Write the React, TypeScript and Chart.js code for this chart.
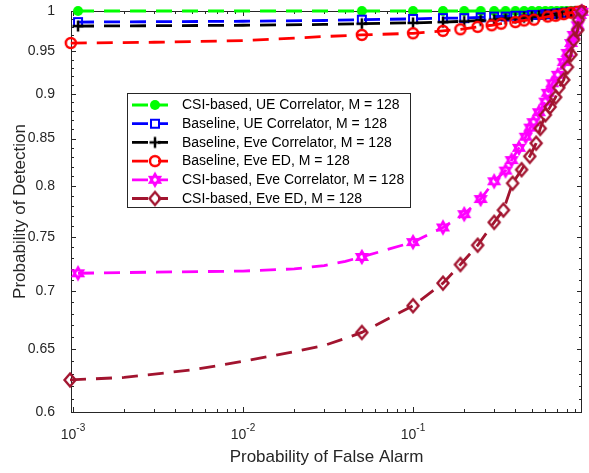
import React, { useEffect, useRef } from 'react';
import { Chart, registerables } from 'chart.js';

Chart.register(...registerables);

// ---------- data (marker points) ----------
const csiUeX = [0.00107, 0.05, 0.1, 0.15, 0.2, 0.25, 0.3, 0.35, 0.4, 0.45, 0.5, 0.55, 0.6, 0.65, 0.7, 0.75, 0.8, 0.85, 0.9, 0.95, 0.985];
const csiUeY = [1, 1, 1, 1, 1, 1, 1, 1, 1, 1, 1, 1, 1, 1, 1, 1, 1, 1, 1, 1, 1];

const baseUeX = [0.00107, 0.05, 0.1, 0.15, 0.2, 0.25, 0.3, 0.35, 0.4, 0.45, 0.5, 0.55, 0.6, 0.65, 0.7, 0.75, 0.8, 0.85, 0.9, 0.95, 0.985];
const baseUeY = [0.986, 0.989, 0.99, 0.991, 0.991, 0.992, 0.993, 0.993, 0.994, 0.994, 0.995, 0.995, 0.996, 0.996, 0.997, 0.997, 0.998, 0.998, 0.999, 0.999, 1.0];

const baseEveCorrX = [0.00107, 0.05, 0.1, 0.15, 0.2, 0.25, 0.3, 0.35, 0.4, 0.45, 0.5, 0.55, 0.6, 0.65, 0.7, 0.75, 0.8, 0.85, 0.9, 0.95, 0.985];
const baseEveCorrY = [0.981, 0.984, 0.985, 0.986, 0.987, 0.988, 0.989, 0.99, 0.991, 0.992, 0.993, 0.994, 0.995, 0.995, 0.996, 0.997, 0.998, 0.998, 0.999, 0.999, 1.0];

const baseEveEdX = [0.00097, 0.05, 0.1, 0.15, 0.19, 0.24, 0.29, 0.33, 0.4, 0.45, 0.515, 0.62, 0.69, 0.77, 0.85, 0.93, 0.985];
const baseEveEdY = [0.96, 0.97, 0.972, 0.975, 0.977, 0.98, 0.982, 0.984, 0.986, 0.988, 0.989, 0.993, 0.994, 0.996, 0.998, 0.999, 1.0];

const csiEveCorrX = [0.00107, 0.05, 0.1, 0.15, 0.2, 0.25, 0.3, 0.35, 0.38, 0.42, 0.46, 0.49, 0.51, 0.55, 0.6, 0.62, 0.66, 0.71, 0.77, 0.81, 0.85, 0.88, 0.93, 0.96, 0.985];
const csiEveCorrY = [0.716, 0.731, 0.745, 0.759, 0.772, 0.787, 0.805, 0.816, 0.827, 0.84, 0.852, 0.862, 0.868, 0.879, 0.891, 0.901, 0.912, 0.922, 0.937, 0.948, 0.96, 0.97, 0.982, 0.995, 0.999];

const csiEveEdX = [0.00096, 0.05, 0.1, 0.15, 0.19, 0.24, 0.3, 0.34, 0.385, 0.435, 0.486, 0.53, 0.56, 0.6, 0.64, 0.69, 0.72, 0.77, 0.81, 0.85, 0.88, 0.93, 0.94, 0.98];
const csiEveEdY = [0.625, 0.664, 0.687, 0.707, 0.724, 0.742, 0.764, 0.776, 0.803, 0.817, 0.831, 0.845, 0.861, 0.876, 0.885, 0.896, 0.907, 0.916, 0.931, 0.946, 0.964, 0.976, 0.989, 0.999];

// ---------- extra curve points read between markers (line only) ----------
const baseUeCurveX = [0.01, 0.03];
const baseUeCurveY = [0.987, 0.988];
const baseEveCorrCurveX = [0.01, 0.03];
const baseEveCorrCurveY = [0.982, 0.983];
const baseEveEdCurveX = [0.003, 0.01, 0.02, 0.03];
const baseEveEdCurveY = [0.961, 0.963, 0.966, 0.968];
const csiEveCorrCurveX = [0.003, 0.01, 0.02, 0.03, 0.04];
const csiEveCorrCurveY = [0.717, 0.718, 0.72, 0.723, 0.727];
const csiEveEdCurveX = [0.002, 0.005, 0.01, 0.02, 0.03, 0.04];
const csiEveEdCurveY = [0.627, 0.633, 0.64, 0.648, 0.653, 0.659];

const seriesLabels = [
  'CSI-based, UE Correlator, M = 128',
  'Baseline, UE Correlator, M = 128',
  'Baseline, Eve Correlator, M = 128',
  'Baseline, Eve ED, M = 128',
  'CSI-based, Eve Correlator, M = 128',
  'CSI-based, Eve ED, M = 128',
];

const xMajorTicks = [0.001, 0.01, 0.1];
const xMajorExp = ['-3', '-2', '-1'];
const yMajorTicks = [0.6, 0.65, 0.7, 0.75, 0.8, 0.85, 0.9, 0.95, 1];

const X_MIN = 0.000973;
const X_MAX = 0.986;
const Y_MIN = 0.6;
const Y_MAX = 1;

const FONT = '"Liberation Sans", Arial, Helvetica, sans-serif';
const AXIS_COLOR = '#262626';

// ---------- markers ----------
function makeMarker(kind: string, color: string): HTMLCanvasElement {
  const S = 20;
  const c = document.createElement('canvas');
  c.width = S;
  c.height = S;
  const g = c.getContext('2d')!;
  const m = S / 2;
  g.strokeStyle = color;
  g.fillStyle = color;
  g.lineJoin = 'miter';
  g.beginPath();
  if (kind === 'filledCircle') {
    g.arc(m, m, 5, 0, Math.PI * 2);
    g.fill();
  } else if (kind === 'square') {
    g.lineWidth = 2;
    g.strokeRect(m - 4, m - 4, 8, 8);
  } else if (kind === 'plus') {
    g.lineWidth = 2.5;
    g.moveTo(m - 5.5, m);
    g.lineTo(m + 5.5, m);
    g.moveTo(m, m - 5.5);
    g.lineTo(m, m + 5.5);
    g.stroke();
  } else if (kind === 'circle') {
    g.lineWidth = 2.5;
    g.arc(m, m, 5, 0, Math.PI * 2);
    g.stroke();
  } else if (kind === 'hexagram') {
    g.lineWidth = 2.4;
    const r = 5.8;
    for (let t = 0; t < 2; t++) {
      const off = t === 0 ? -Math.PI / 2 : Math.PI / 2;
      for (let k = 0; k < 3; k++) {
        const a = off + (k * 2 * Math.PI) / 3;
        const px = m + r * Math.cos(a);
        const py = m + r * Math.sin(a);
        if (k === 0) g.moveTo(px, py);
        else g.lineTo(px, py);
      }
      g.closePath();
    }
    g.stroke();
  } else if (kind === 'diamond') {
    g.lineWidth = 2.4;
    g.moveTo(m, m - 6.5);
    g.lineTo(m + 5.5, m);
    g.lineTo(m, m + 6.5);
    g.lineTo(m - 5.5, m);
    g.closePath();
    g.stroke();
  }
  return c;
}

function mergePoints(mx: number[], my: number[], cx: number[], cy: number[]) {
  const pts = mx.map((x, i) => ({ x, y: my[i] })).concat(cx.map((x, i) => ({ x, y: cy[i] })));
  pts.sort((a, b) => a.x - b.x);
  return pts;
}

export default function App() {
  const ref = useRef<HTMLCanvasElement | null>(null);

  useEffect(() => {
    const canvas = ref.current;
    if (!canvas) return;

    const specs = [
      { x: csiUeX, y: csiUeY, cx: [] as number[], cy: [] as number[], color: '#00FF00', marker: 'filledCircle' },
      { x: baseUeX, y: baseUeY, cx: baseUeCurveX, cy: baseUeCurveY, color: '#0000FF', marker: 'square' },
      { x: baseEveCorrX, y: baseEveCorrY, cx: baseEveCorrCurveX, cy: baseEveCorrCurveY, color: '#000000', marker: 'plus' },
      { x: baseEveEdX, y: baseEveEdY, cx: baseEveEdCurveX, cy: baseEveEdCurveY, color: '#FF0000', marker: 'circle' },
      { x: csiEveCorrX, y: csiEveCorrY, cx: csiEveCorrCurveX, cy: csiEveCorrCurveY, color: '#FF00FF', marker: 'hexagram' },
      { x: csiEveEdX, y: csiEveEdY, cx: csiEveEdCurveX, cy: csiEveEdCurveY, color: '#A2142F', marker: 'diamond' },
    ];
    const markers = specs.map((s) => makeMarker(s.marker, s.color));

    const DASH = [16, 10];
    const LW = 2.8;

    const datasets: any[] = [];
    specs.forEach((s, i) => {
      datasets.push({
        label: seriesLabels[i],
        data: mergePoints(s.x, s.y, s.cx, s.cy),
        showLine: true,
        borderColor: s.color,
        backgroundColor: s.color,
        borderWidth: LW,
        borderDash: DASH,
        pointRadius: 0,
        pointHoverRadius: 0,
        clip: false,
        tension: 0,
        order: 10 - i,
      });
      datasets.push({
        label: seriesLabels[i] + ' markers',
        data: s.x.map((xv, j) => ({ x: xv, y: s.y[j] })),
        showLine: false,
        borderColor: s.color,
        backgroundColor: s.color,
        pointStyle: markers[i],
        pointRadius: 6,
        pointHoverRadius: 6,
        clip: false,
        order: 10 - i,
      });
    });

    const yMinor: number[] = [];
    for (let k = 61; k < 100; k++) if (k % 5 !== 0) yMinor.push(k / 100);
    const xMinor: number[] = [];
    [0.001, 0.01, 0.1].forEach((d) => {
      for (let k = 2; k <= 9; k++) xMinor.push(k * d);
    });

    const axesPlugin = {
      id: 'matlabAxes',
      beforeDatasetsDraw(chart: any) {
        const { ctx, chartArea: a, scales } = chart;
        const xs = scales.x;
        const ys = scales.y;
        ctx.save();
        ctx.strokeStyle = AXIS_COLOR;
        ctx.lineWidth = 1;
        ctx.beginPath();
        const MAJ = 5;
        const MIN = 3;
        xMajorTicks.forEach((v) => {
          const px = Math.round(xs.getPixelForValue(v)) + 0.5;
          ctx.moveTo(px, a.bottom);
          ctx.lineTo(px, a.bottom - MAJ);
          ctx.moveTo(px, a.top);
          ctx.lineTo(px, a.top + MAJ);
        });
        xMinor.forEach((v) => {
          if (v > X_MAX) return;
          const px = Math.round(xs.getPixelForValue(v)) + 0.5;
          ctx.moveTo(px, a.bottom);
          ctx.lineTo(px, a.bottom - MIN);
          ctx.moveTo(px, a.top);
          ctx.lineTo(px, a.top + MIN);
        });
        yMajorTicks.forEach((v) => {
          const py = Math.round(ys.getPixelForValue(v)) + 0.5;
          ctx.moveTo(a.left, py);
          ctx.lineTo(a.left + MAJ, py);
          ctx.moveTo(a.right, py);
          ctx.lineTo(a.right - MAJ, py);
        });
        yMinor.forEach((v) => {
          const py = Math.round(ys.getPixelForValue(v)) + 0.5;
          ctx.moveTo(a.left, py);
          ctx.lineTo(a.left + MIN, py);
          ctx.moveTo(a.right, py);
          ctx.lineTo(a.right - MIN, py);
        });
        ctx.stroke();
        ctx.strokeRect(a.left + 0.5, a.top + 0.5, a.right - a.left - 1, a.bottom - a.top);

        // x tick labels (10^n)
        ctx.fillStyle = AXIS_COLOR;
        ctx.textBaseline = 'alphabetic';
        ctx.textAlign = 'left';
        xMajorTicks.forEach((v, i) => {
          const px = xs.getPixelForValue(v);
          ctx.font = `14px ${FONT}`;
          const w1 = ctx.measureText('10').width;
          ctx.font = `10px ${FONT}`;
          const w2 = ctx.measureText(xMajorExp[i]).width;
          const start = px - (w1 + w2) / 2;
          ctx.font = `14px ${FONT}`;
          ctx.fillText('10', start, 439);
          ctx.font = `10px ${FONT}`;
          ctx.fillText(xMajorExp[i], start + w1, 431);
        });

        // axis titles
        ctx.font = `17px ${FONT}`;
        ctx.textAlign = 'center';
        ctx.textBaseline = 'middle';
        ctx.fillText('Probability of False Alarm', (a.left + a.right) / 2, 457);
        ctx.save();
        ctx.translate(20, (a.top + a.bottom) / 2);
        ctx.rotate(-Math.PI / 2);
        ctx.fillText('Probability of Detection', 0, 0);
        ctx.restore();
        ctx.restore();
      },
      afterDraw(chart: any) {
        const { ctx } = chart;
        ctx.save();
        const L = 127, T = 93, R = 411, B = 208;
        ctx.fillStyle = '#FFFFFF';
        ctx.fillRect(L, T, R - L, B - T);
        ctx.strokeStyle = AXIS_COLOR;
        ctx.lineWidth = 1;
        ctx.strokeRect(L + 0.5, T + 0.5, R - L - 1, B - T - 1);
        const rowY0 = 105;
        const rowStep = 18.7;
        specs.forEach((s, i) => {
          const y = rowY0 + i * rowStep;
          ctx.strokeStyle = s.color;
          ctx.lineWidth = LW;
          ctx.setLineDash(DASH);
          ctx.beginPath();
          ctx.moveTo(132, y);
          ctx.lineTo(168, y);
          ctx.stroke();
          ctx.setLineDash([]);
          const mk = markers[i];
          ctx.drawImage(mk, 155 - mk.width / 2, y - mk.height / 2);
          ctx.fillStyle = '#000000';
          ctx.font = `14px ${FONT}`;
          ctx.textAlign = 'left';
          ctx.textBaseline = 'middle';
          ctx.fillText(seriesLabels[i], 182, y + 0.5);
        });
        ctx.restore();
      },
    };

    const chart = new Chart(canvas, {
      type: 'scatter',
      data: { datasets },
      options: {
        responsive: false,
        animation: false,
        events: [],
        layout: { padding: { left: 0, top: 11, right: 7, bottom: 0 } },
        plugins: {
          legend: { display: false },
          tooltip: { enabled: false },
          title: { display: false },
        },
        scales: {
          x: {
            type: 'logarithmic',
            min: X_MIN,
            max: X_MAX,
            grid: { display: false },
            border: { display: false },
            ticks: { display: false },
            afterFit: (s: any) => {
              s.height = 61;
              s.paddingLeft = 0;
              s.paddingRight = 0;
            },
          },
          y: {
            type: 'logarithmic',
            min: Y_MIN,
            max: Y_MAX,
            grid: { display: false },
            border: { display: false },
            afterBuildTicks: (s: any) => {
              s.ticks = yMajorTicks.map((v) => ({ value: v }));
            },
            ticks: {
              padding: 8,
              color: AXIS_COLOR,
              font: { family: FONT, size: 14 },
              callback: (v: any) => String(v),
            },
            afterFit: (s: any) => {
              s.width = 71;
              s.paddingTop = 0;
              s.paddingBottom = 0;
            },
          },
        },
      },
      plugins: [axesPlugin],
    });
    return () => chart.destroy();
  }, []);

  return (
    <div style={{ position: 'fixed', left: 0, top: 0, width: 589, height: 473, background: '#fff' }}>
      <canvas ref={ref} width={589} height={473} style={{ width: 589, height: 473, display: 'block' }} />
    </div>
  );
}
